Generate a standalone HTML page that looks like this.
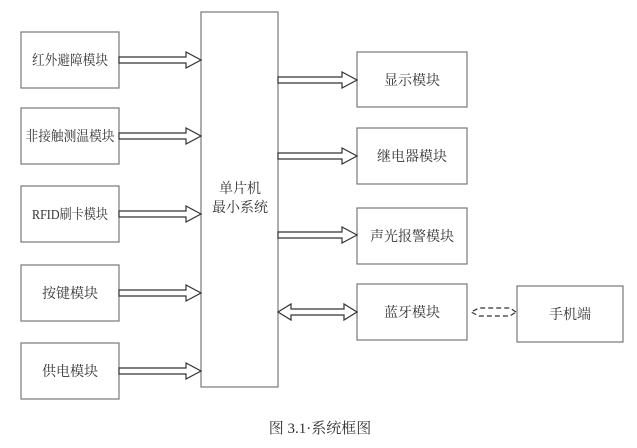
<!DOCTYPE html>
<html><head><meta charset="utf-8"><style>
html,body{margin:0;padding:0;background:#fff;}
body{width:637px;height:448px;overflow:hidden;position:relative;}
svg{position:absolute;left:0;top:0;}
text{font-family:"Liberation Serif","Noto Serif CJK SC",serif;font-size:14px;fill:#333;text-anchor:middle;}
</style></head><body>
<svg width="637" height="448" viewBox="0 0 637 448">
<g fill="#fff" stroke="#777" stroke-width="1.2">
<rect x="21" y="32" width="98" height="56"/>
<rect x="21" y="108" width="98" height="56"/>
<rect x="21" y="186" width="98" height="56"/>
<rect x="21" y="265" width="98" height="56"/>
<rect x="21" y="343" width="98" height="56"/>
<rect x="201" y="12" width="77" height="375"/>
<rect x="357" y="52" width="110" height="55"/>
<rect x="357" y="128" width="110" height="56"/>
<rect x="357" y="208" width="110" height="56"/>
<rect x="357" y="284" width="110" height="56"/>
<rect x="517" y="286" width="106" height="56"/>
</g>
<g fill="#fff" stroke="#333" stroke-width="1.2">
<polygon points="119,57 186,57 186,52 201,60 186,68 186,63 119,63"/>
<polygon points="119,133 186,133 186,128 201,136 186,144 186,139 119,139"/>
<polygon points="119,211 186,211 186,206 201,214 186,222 186,217 119,217"/>
<polygon points="119,290 186,290 186,285 201,293 186,301 186,296 119,296"/>
<polygon points="119,368 186,368 186,363 201,371 186,379 186,374 119,374"/>
<polygon points="278,77 342,77 342,72 357,80 342,88 342,83 278,83"/>
<polygon points="278,153 342,153 342,148 357,156 342,164 342,159 278,159"/>
<polygon points="278,232 342,232 342,227 357,235 342,243 342,238 278,238"/>
<polygon points="278,312 291,304 291,309 344,309 344,304 357,312 344,320 344,315 291,315 291,320"/>
</g>
<g fill="none" stroke="#333" stroke-width="1.2" stroke-dasharray="5,3">
<polyline points="516,312 510,308 479,308 471,312 479,316 510,316 516,312"/>
</g>
<text x="70" y="65" textLength="76" lengthAdjust="spacingAndGlyphs">红外避障模块</text>
<text x="70" y="141" textLength="89" lengthAdjust="spacingAndGlyphs">非接触测温模块</text>
<text x="70" y="219" textLength="76" lengthAdjust="spacingAndGlyphs">RFID刷卡模块</text>
<text x="70" y="298">按键模块</text>
<text x="70" y="376">供电模块</text>
<text x="240" y="193">单片机</text>
<text x="240" y="212">最小系统</text>
<text x="412" y="85">显示模块</text>
<text x="412" y="161">继电器模块</text>
<text x="412" y="241">声光报警模块</text>
<text x="412" y="317">蓝牙模块</text>
<text x="570" y="319">手机端</text>
<text x="320" y="433" style="font-size:15px">图 3.1·系统框图</text>
</svg>
</body></html>
